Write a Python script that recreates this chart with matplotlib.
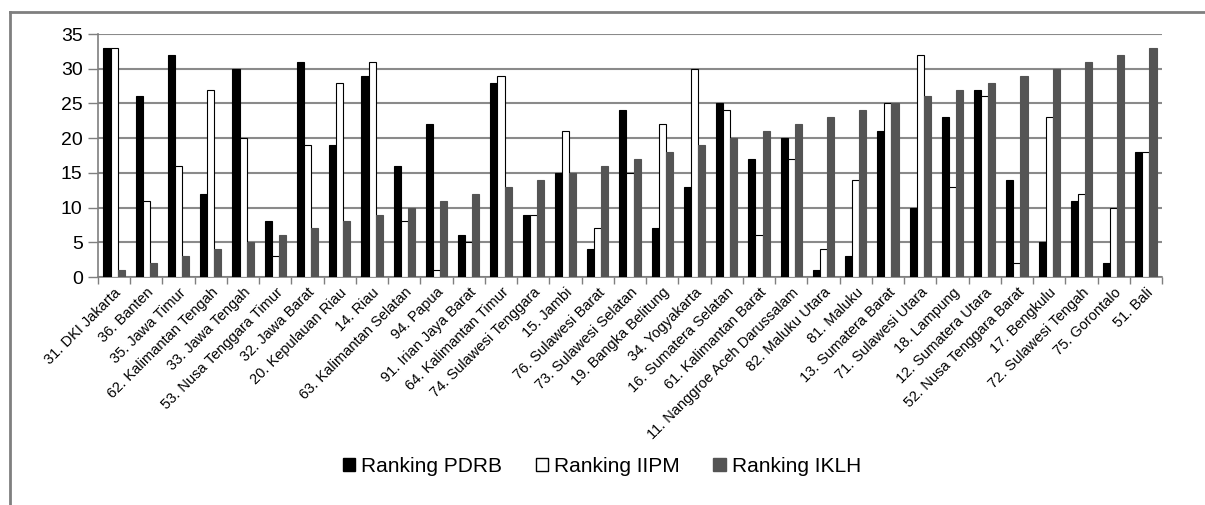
import numpy as np
import matplotlib.pyplot as plt
from matplotlib.patches import Patch
from matplotlib.lines import Line2D

plt.rcParams['font.family'] = ['Liberation Sans', 'DejaVu Sans']

provinces = ['31. DKI Jakarta', '36. Banten', '35. Jawa Timur', '62. Kalimantan Tengah',
             '33. Jawa Tengah', '53. Nusa Tenggara Timur', '32. Jawa Barat', '20. Kepulauan Riau',
             '14. Riau', '63. Kalimantan Selatan', '94. Papua', '91. Irian Jaya Barat',
             '64. Kalimantan Timur', '74. Sulawesi Tenggara', '15. Jambi', '76. Sulawesi Barat',
             '73. Sulawesi Selatan', '19. Bangka Belitung', '34. Yogyakarta', '16. Sumatera Selatan',
             '61. Kalimantan Barat', '11. Nanggroe Aceh Darussalam', '82. Maluku Utara', '81. Maluku',
             '13. Sumatera Barat', '71. Sulawesi Utara', '18. Lampung', '12. Sumatera Utara',
             '52. Nusa Tenggara Barat', '17. Bengkulu', '72. Sulawesi Tengah', '75. Gorontalo',
             '51. Bali']
pdrb = [33, 26, 32, 12, 30, 8, 31, 19, 29, 16, 22, 6, 28, 9, 15, 4, 24, 7, 13, 25, 17,
        20, 1, 3, 21, 10, 23, 27, 14, 5, 11, 2, 18]
iipm = [33, 11, 16, 27, 20, 3, 19, 28, 31, 8, 1, 5, 29, 9, 21, 7, 15, 22, 30, 24, 6,
        17, 4, 14, 25, 32, 13, 26, 2, 23, 12, 10, 18]
iklh = list(range(1, 34))

fig = plt.figure(figsize=(12.05, 5.05), dpi=100)
# outer chart frame (only top and left edges are visible in the picture)
fx, fy = 10/1205, 1 - 12/505
fig.add_artist(Line2D([fx, 1.01], [fy, fy], transform=fig.transFigure, color='#7f7f7f', lw=2))
fig.add_artist(Line2D([fx, fx], [-0.01, fy], transform=fig.transFigure, color='#7f7f7f', lw=2))

ax = fig.add_axes([98/1205, 1-277/505, (1162-98)/1205, (277-34)/505])

x = np.arange(len(provinces))
w = 0.22
ax.bar(x - w, pdrb, w, color='black', edgecolor='black', linewidth=0.8, zorder=3)
ax.bar(x, iipm, w, color='white', edgecolor='black', linewidth=0.8, zorder=3)
ax.bar(x + w, iklh, w, color='#545454', edgecolor='#545454', linewidth=0.8, zorder=3)

ax.set_xlim(-0.5, len(provinces) - 0.5)
ax.set_ylim(0, 35)
ax.set_yticks(range(0, 36, 5))
ax.yaxis.grid(True, color='#8a8a8a', linewidth=1.5, zorder=0)
ax.set_xticks(x)
ax.set_xticklabels(provinces, rotation=45, ha='right', rotation_mode='anchor', fontsize=10.5)
ax.set_xticks(np.arange(-0.5, len(provinces)), minor=True)
ax.tick_params(axis='x', which='major', length=0, pad=6)
ax.tick_params(axis='x', which='minor', length=5, color='#7f7f7f', width=1)
ax.tick_params(axis='y', length=7, color='#7f7f7f', width=1, labelsize=14, pad=4)
for s in ['top', 'right']:
    ax.spines[s].set_visible(False)
for s in ['left', 'bottom']:
    ax.spines[s].set_color('#7f7f7f')
    ax.spines[s].set_linewidth(1.2)

handles = [Patch(facecolor='black', edgecolor='black'),
           Patch(facecolor='white', edgecolor='black'),
           Patch(facecolor='#545454', edgecolor='#545454')]
fig.legend(handles, ['Ranking PDRB', 'Ranking IIPM', 'Ranking IKLH'], loc='center',
           bbox_to_anchor=(602/1205, 1-466/505), ncol=3, frameon=False, fontsize=15,
           handlelength=0.6, handleheight=0.6, handletextpad=0.3, columnspacing=1.6)

plt.savefig('out.png')
